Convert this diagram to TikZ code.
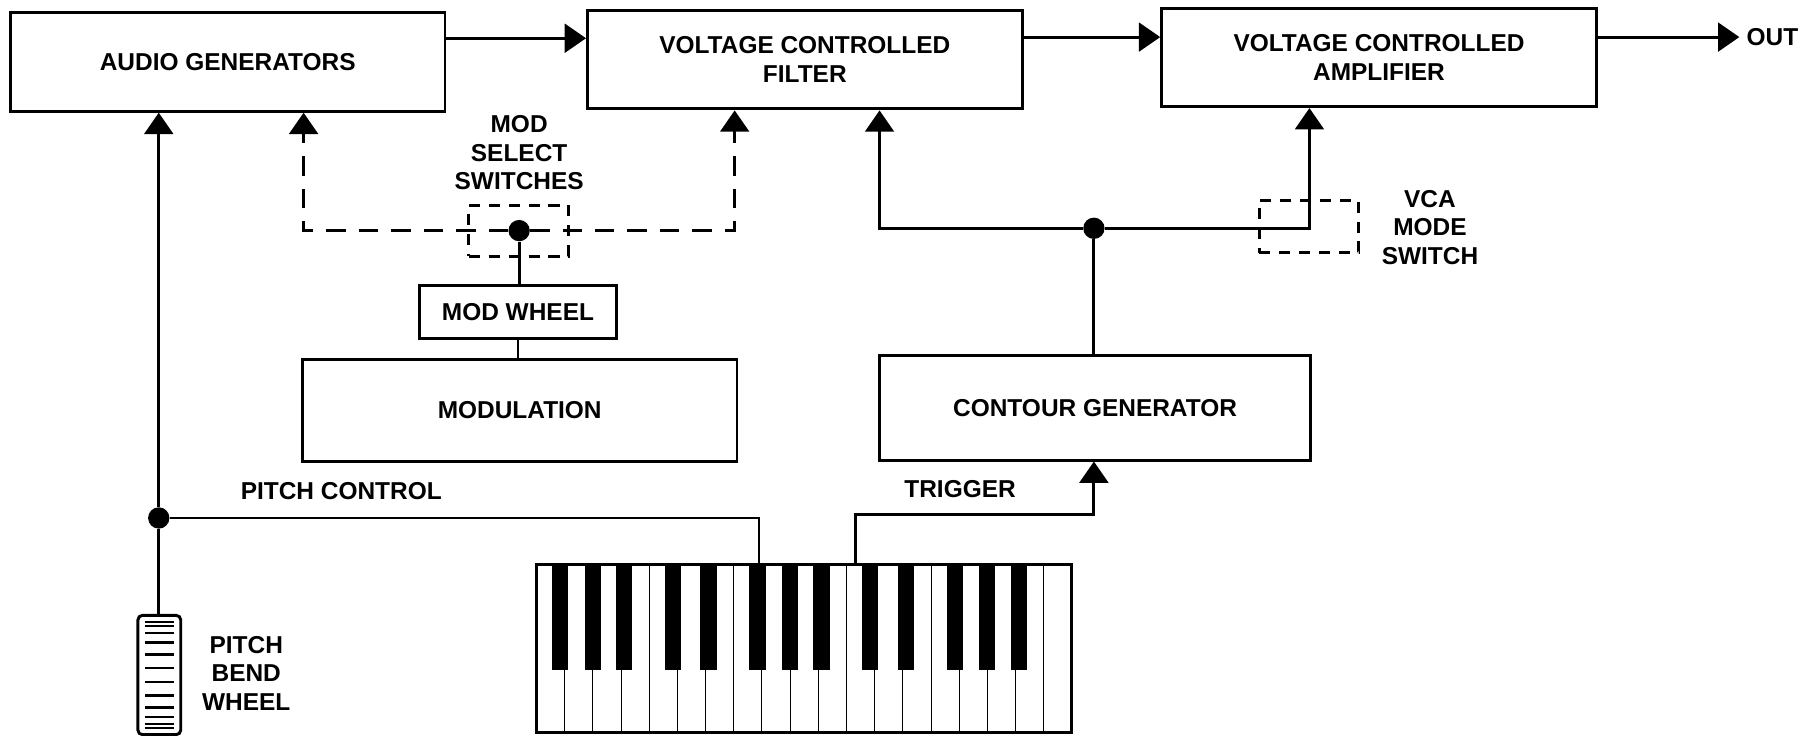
\documentclass[tikz,border=0pt]{standalone}
\usepackage{fontspec}
\setmainfont{Liberation Sans}
\usetikzlibrary{arrows.meta}
\newcommand{\myFont}{\fontsize{15}{17.5}\selectfont\bfseries}
\tikzset{myLine/.style={line width=1.8pt, color=black}}
\tikzset{myArrow/.style={myLine, -{Triangle[length=4.6mm, width=6.2mm]}}}
\tikzset{myDash/.style={dash pattern=on 4.2mm off 2.8mm}}
\tikzset{myBox/.style={draw, line width=1.8pt, minimum width=93.75mm, minimum height=21.25mm, align=center, font=\myFont, inner sep=0}}
\tikzset{myDashBox/.style={draw, line width=1.8pt, dash pattern=on 2.4mm off 1.9mm, inner sep=0}}
\tikzset{myDot/.style={circle, fill=black, inner sep=0, minimum size=4.6mm}}
\tikzset{myLabel/.style={align=center, font=\myFont, inner sep=0}}
\tikzset{keyLine/.style={line width=0.6pt}}

\begin{document}
\begin{tikzpicture}[x=0.25mm, y=-0.25mm]
	\useasboundingbox (0,0) rectangle (1568,635);

	% signal row
	\node[myBox] (ag) at (196.5,53.5) {AUDIO GENERATORS};
	\node[myBox] (vcf) at (694.5,51.5) {VOLTAGE CONTROLLED\\FILTER};
	\node[myBox] (vca) at (1190,49.5) {VOLTAGE CONTROLLED\\AMPLIFIER};
	\node[myLabel, anchor=west] (out) at (1507,32) {OUT};
	\coordinate (sig) at (0,33);
	\draw[myArrow] (ag.east |- sig) -- (vcf.west |- sig);
	\draw[myArrow] (vcf.east |- 0,32) -- (vca.west |- 0,32);
	\draw[myArrow] (vca.east |- out) -- ([xshift=-1.5mm]out.west);

	% modulation
	\node[myBox, minimum height=22mm] (mod) at (448.5,354) {MODULATION};
	\node[myBox, minimum width=42.5mm, minimum height=11.5mm] (mw) at (447,269) {MOD WHEEL};
	\node[myDashBox, minimum width=21.5mm, minimum height=11mm] (mswBox) at (447.5,199) {};
	\node[myDot] (msw) at (448,199) {};
	\node[myLabel] (mswLabel) at (448,132) {MOD\\SELECT\\SWITCHES};
	\draw[myLine] (mw.south) -- (mw.south |- mod.north);
	\draw[myLine] (msw) -- (msw |- mw.north);
	\draw[myArrow, myDash] (msw) -| (262,0 |- ag.south);
	\draw[myArrow, myDash] (msw) -| (634,0 |- vcf.south);

	% contour
	\node[myBox, minimum width=93mm, minimum height=22.5mm] (cg) at (945,352) {CONTOUR GENERATOR};
	\node[myDot] (cdot) at (944,197) {};
	\node[myDashBox, minimum width=21.5mm, minimum height=11.25mm] (vsw) at (1129.5,195.5) {};
	\node[myLabel] (vswLabel) at (1234,196) {VCA\\MODE\\SWITCH};
	\draw[myLine] (cdot) -- (cdot |- cg.north);
	\draw[myArrow] (cdot) -| (759,0 |- vcf.south);
	\draw[myArrow] (cdot) -| (1130,0 |- vca.south);

	% keyboard
	\node[draw, line width=1.8pt, minimum width=115.5mm, minimum height=36.25mm, inner sep=0] (kbd) at (694,559.5) {};
	\foreach \i in {1,...,18}{
		\draw[keyLine] ({463+\i*24.316},487) -- ++(0,145);
	}
	\foreach \b/\o in {1/-0.16,2/0,3/0.11,5/-0.17,6/0.1,8/-0.16,9/0,10/0.11,12/-0.17,13/0.1,15/-0.16,16/0,17/0.11}{
		\fill ({463+(\b+\o)*24.316-7},487) rectangle ++(14,91);
	}
	\coordinate (kpitch) at (655,487);
	\coordinate (ktrig) at (738,487);
	\coordinate (trigTurn) at (944,444);
	\node[myLabel] (trigLabel) at (828.5,422) {TRIGGER};
	\draw[myArrow] (ktrig) |- (trigTurn) -- (trigTurn |- cg.south);

	% pitch
	\node[draw, line width=1.8pt, rounded corners=1mm, minimum width=9.25mm, minimum height=25.75mm, inner sep=0] (pbw) at (137.5,582.5) {};
	\foreach \a in {-82.5,-67.5,...,82.5}{
		\draw[line width=1.4pt] (125,{582.5+46*sin(\a)}) -- (150,{582.5+46*sin(\a)});
	}
	\node[myLabel] (pbwLabel) at (212.5,581) {PITCH\\BEND\\WHEEL};
	\node[myDot] (pdot) at (137,447) {};
	\node[myLabel] (pcLabel) at (294.5,424) {PITCH CONTROL};
	\draw[myArrow] (pdot) -- (pdot |- ag.south);
	\draw[myLine] (pdot) -- (pdot |- pbw.north);
	\draw[myLine] (pdot) -| (kpitch);
\end{tikzpicture}
\end{document}
